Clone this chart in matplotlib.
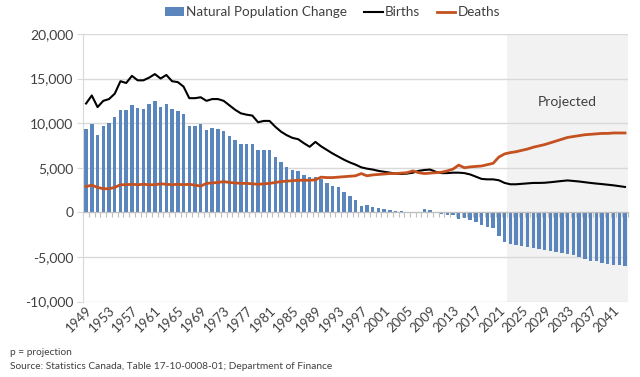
import numpy as np
import matplotlib.pyplot as plt
from matplotlib.ticker import FuncFormatter

plt.rcParams['font.family'] = ['Lato', 'DejaVu Sans']

years = list(range(1949, 2044))
first_projected = 2023

births = [12200, 13100, 11800, 12500, 12700, 13300, 14700, 14500, 15300, 14800,
          14800, 15100, 15500, 15000, 15400, 14700, 14600, 14100, 12800, 12800,
          12900, 12500, 12700, 12700, 12500, 12000, 11500, 11100, 10950, 10850,
          10100, 10250, 10250, 9600, 9050, 8650, 8350, 8200, 7750, 7350,
          7900, 7400, 7000, 6600, 6250, 5900, 5600, 5350, 5050, 4900,
          4800, 4650, 4550, 4450, 4350, 4300, 4350, 4450, 4650, 4750,
          4800, 4550, 4400, 4400, 4450, 4450, 4400, 4250, 4000, 3750,
          3700, 3700, 3600, 3300, 3150, 3150, 3200, 3250, 3300, 3300,
          3320, 3380, 3450, 3520, 3580, 3520, 3460, 3380, 3300, 3230,
          3170, 3100, 3030, 2940, 2850]

deaths = [2900, 3050, 2800, 2650, 2650, 2800, 3100, 3100, 3150, 3100,
          3150, 3100, 3100, 3200, 3150, 3100, 3150, 3100, 3150, 3050,
          2950, 3250, 3300, 3350, 3450, 3350, 3300, 3250, 3250, 3200,
          3150, 3200, 3250, 3350, 3450, 3500, 3550, 3600, 3600, 3600,
          3650, 3950, 3900, 3900, 3950, 4000, 4050, 4100, 4350, 4100,
          4200, 4250, 4300, 4350, 4350, 4400, 4450, 4650, 4450, 4350,
          4400, 4450, 4500, 4650, 4850, 5300, 5000, 5100, 5150, 5200,
          5350, 5500, 6200, 6550, 6700, 6800, 6950, 7100, 7300, 7450,
          7600, 7800, 8000, 8200, 8400, 8500, 8600, 8700, 8750, 8800,
          8850, 8850, 8900, 8900, 8900]

natural_change = [9350, 9900, 8650, 9700, 10050, 10650, 11450, 11450, 12050, 11650,
                  11600, 12150, 12500, 11850, 12200, 11600, 11400, 11000, 9650, 9650,
                  9950, 9200, 9450, 9400, 9150, 8550, 8100, 7700, 7700, 7700,
                  6950, 6950, 6950, 6200, 5600, 5100, 4750, 4650, 4200, 3950,
                  3950, 3700, 3300, 3000, 2800, 2250, 1850, 1350, 750, 800,
                  650, 500, 350, 300, 200, 100, 50, -20, 50, 400,
                  300, -50, -150, -250, -300, -750, -650, -850, -1100, -1400,
                  -1650, -1750, -2600, -3300, -3550, -3650, -3750, -3850, -4000, -4100,
                  -4200, -4300, -4400, -4500, -4650, -4800, -5000, -5200, -5400, -5500,
                  -5650, -5750, -5850, -5950, -6050]

label_years = years[::4]

grid_col = '#d9d9d9'
text_col = '#404040'

fig = plt.figure(figsize=(6.4, 3.77), dpi=100)
ax = fig.add_axes([0.130, 0.200, 0.851, 0.710])

x = np.arange(len(years))
start = years.index(first_projected) - 0.5
ax.axvspan(start, len(years) - 0.5, color='#f2f2f2', zorder=0, lw=0)

bars = ax.bar(x, natural_change, width=0.6, color='#5b86bd', zorder=2,
              label='Natural Population Change')
l1, = ax.plot(x, births, color='black', lw=1.5, zorder=3, label='Births')
l2, = ax.plot(x, deaths, color='#c4511f', lw=2.0, zorder=4, label='Deaths')

ax.set_xlim(-0.5, len(years) - 0.5)
ax.set_ylim(-10000, 20000)
ax.set_yticks(range(-10000, 20001, 5000))
ax.yaxis.set_major_formatter(FuncFormatter(lambda v, p: f'{int(v):,}'))
ax.yaxis.grid(True, color=grid_col, lw=1.0, zorder=0.5)
ax.set_axisbelow(True)
ax.tick_params(axis='y', length=4, color=grid_col, labelsize=10, labelcolor=text_col, pad=3)

# category axis sits on zero, labels stay at the bottom
ax.spines['bottom'].set_position(('data', 0))
ax.spines['bottom'].set_color('#bfbfbf')
ax.spines['left'].set_color(grid_col)
ax.spines['top'].set_visible(False)
ax.spines['right'].set_visible(False)
ax.set_xticks(np.arange(-0.5, len(years), 1))
ax.tick_params(axis='x', length=3.5, color='#bfbfbf', labelbottom=False)

sec = ax.secondary_xaxis('bottom')
sec.set_xticks([years.index(y) for y in label_years], [str(y) for y in label_years])
sec.tick_params(length=0, labelsize=9.5, labelcolor=text_col, pad=2)
sec.spines['bottom'].set_visible(False)
for t in sec.get_xticklabels():
    t.set_rotation(45)
    t.set_ha('right')
    t.set_rotation_mode('anchor')

ax.text(0.888, 0.746, 'Projected', transform=ax.transAxes, ha='center', va='center',
        fontsize=10, color=text_col)

fig.legend([bars, l1, l2], ['Natural Population Change', 'Births', 'Deaths'],
           loc='upper center', bbox_to_anchor=(0.52, 1.015), ncol=3, frameon=False,
           fontsize=9.7, handlelength=1.4, handletextpad=0.2, columnspacing=1.2,
           labelcolor=text_col)

fig.text(0.015, 0.058, 'p = projection', fontsize=7.3, color=text_col)
fig.text(0.015, 0.020, 'Source: Statistics Canada, Table 17-10-0008-01; Department of Finance',
         fontsize=7.3, color=text_col)

fig.savefig('out.png', dpi=100)
